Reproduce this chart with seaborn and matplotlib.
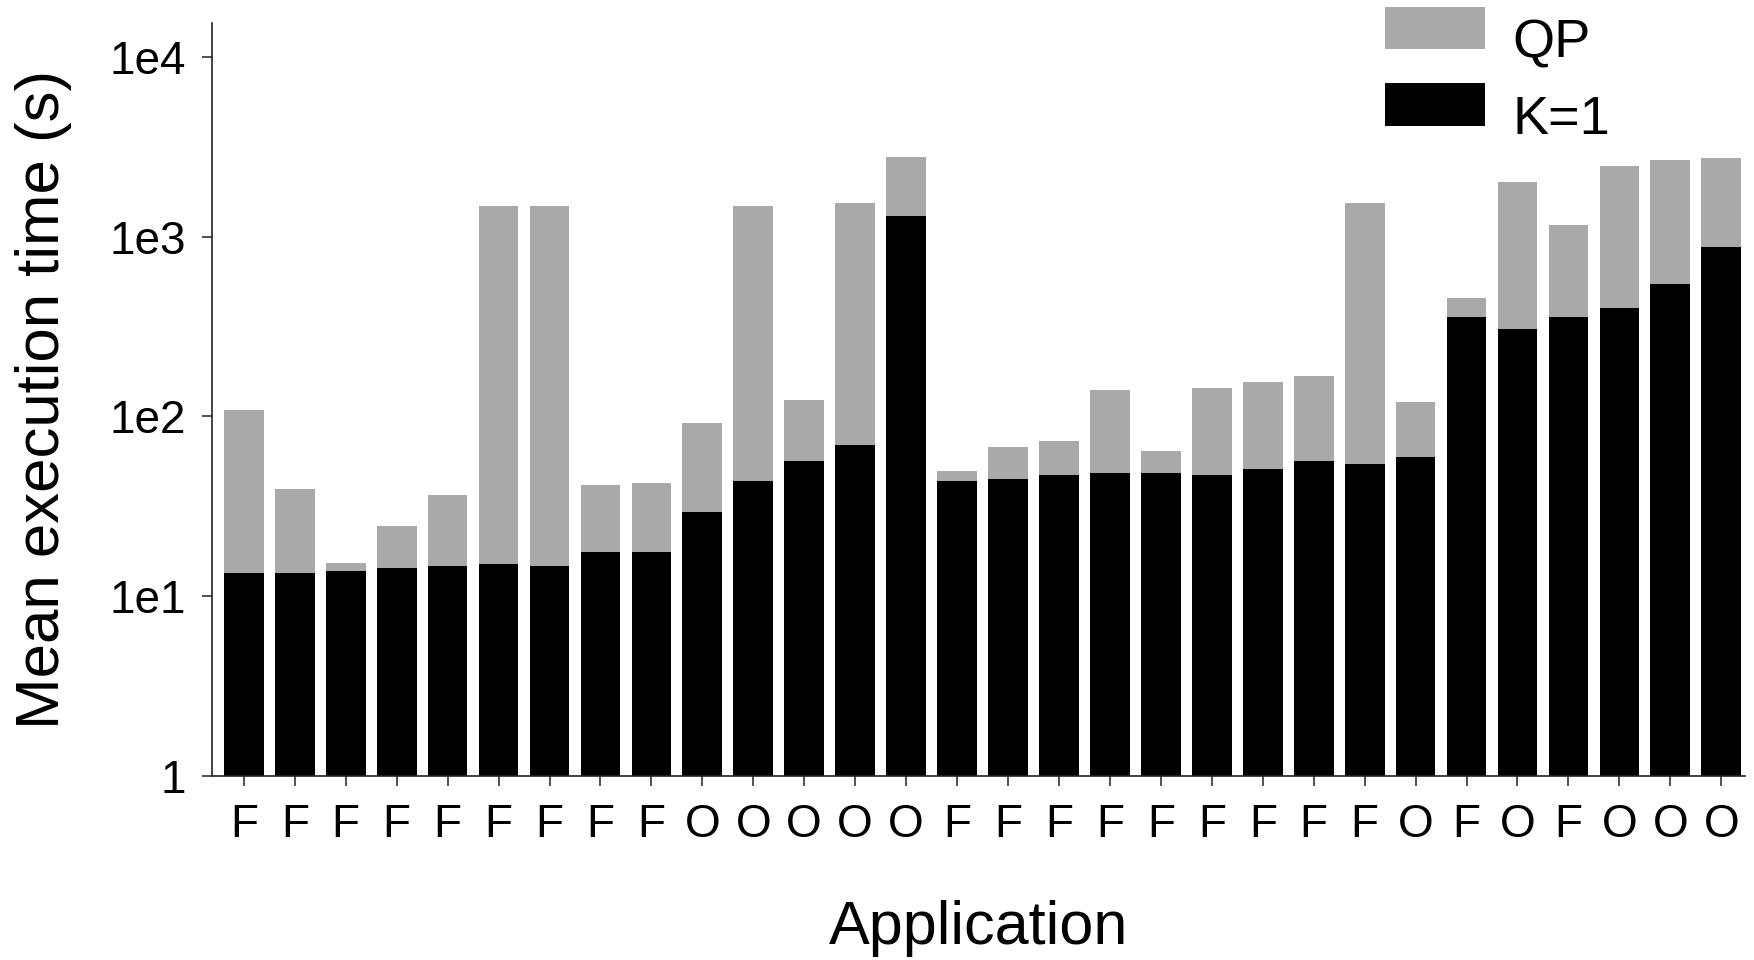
import matplotlib
matplotlib.use("Agg")
import matplotlib.pyplot as plt
import seaborn as sns
import pandas as pd
from matplotlib.patches import Patch
from matplotlib.ticker import FixedLocator, NullLocator
from matplotlib.transforms import ScaledTranslation

# Application type of each benchmark (F / O)
app_types = ["F", "F", "F", "F", "F", "F", "F", "F", "F",
             "O", "O", "O", "O", "O",
             "F", "F", "F", "F", "F", "F", "F", "F", "F",
             "O", "F", "O", "F", "O", "O", "O"]

# Mean execution time (s) with the QP solver
qp_time = [109, 39.5, 15.3, 24.6, 36.3, 1480, 1480, 41.4, 42.7,
           92, 1480, 123, 1530, 2780,
           49.6, 67.5, 73, 141, 64.2, 144, 155, 168, 1530,
           119.5, 453, 2004, 1154, 2472, 2668, 2736]

# Mean execution time (s) with K=1
k1_time = [13.5, 13.5, 13.8, 14.3, 14.6, 15.0, 14.6, 17.5, 17.5,
           29.5, 43.6, 56.7, 69.5, 1310,
           43.6, 44.8, 47.1, 48.4, 48.4, 47.1, 51, 56.7, 54,
           59.6, 358, 307, 358, 400, 545, 871]

y_ticks = [1, 10, 100, 1000, 10000]
y_tick_labels = ["1", "1e1", "1e2", "1e3", "1e4"]

df = pd.DataFrame({
    "app": list(range(len(app_types))),
    "qp": qp_time,
    "k1": k1_time,
})

sns.set_style("ticks")
plt.rcParams["font.family"] = ["Liberation Sans", "DejaVu Sans"]
plt.rcParams["text.color"] = "black"
plt.rcParams["axes.labelcolor"] = "black"
plt.rcParams["xtick.color"] = "black"
plt.rcParams["ytick.color"] = "black"

fig = plt.figure(figsize=(17.54, 9.60), dpi=100)
ax = fig.add_axes([0.121, 0.192, 0.874, 0.784])

qp_color = "#a9a9a9"
k1_color = "#000000"

sns.barplot(data=df, x="app", y="qp", color=qp_color, width=0.78,
            saturation=1, linewidth=0, ax=ax)
sns.barplot(data=df, x="app", y="k1", color=k1_color, width=0.78,
            saturation=1, linewidth=0, ax=ax)

ax.set_yscale("log")
ax.set_ylim(1, 15450)
ax.set_xlim(-0.62, len(app_types) - 1 + 0.47)
ax.yaxis.set_major_locator(FixedLocator(y_ticks))
ax.yaxis.set_minor_locator(NullLocator())
ax.set_yticklabels(y_tick_labels)
ax.set_xticks(range(len(app_types)))
ax.set_xticklabels(app_types)

sns.despine(ax=ax)
for side in ("left", "bottom"):
    ax.spines[side].set_linewidth(1.2)
    ax.spines[side].set_color("#222222")

ax.tick_params(axis="y", direction="out", length=7, width=1.1,
               labelsize=33, pad=12, color="#222222")
ax.tick_params(axis="x", direction="out", length=7.5, width=1.1,
               labelsize=33, pad=12, color="#222222")

ax.set_xlabel("Application", fontsize=44, labelpad=38)
ax.set_ylabel("Mean execution time (s)", fontsize=44.5, labelpad=27)

handles = [Patch(facecolor=qp_color, edgecolor="none", label="QP"),
           Patch(facecolor=k1_color, edgecolor="none", label="K=1")]
leg = fig.legend(handles=handles, loc="upper left",
                 bbox_to_anchor=(0.7895, 0.993),
                 frameon=False, fontsize=39, handlelength=1.85,
                 handleheight=0.83, handletextpad=0.5, labelspacing=0.47,
                 borderpad=0.0, borderaxespad=0.0)
# labels sit slightly below their swatches
shift = ScaledTranslation(0, -8 / 72, fig.dpi_scale_trans)
for t in leg.get_texts():
    t.set_transform(t.get_transform() + shift)

fig.savefig("out.png", dpi=100, facecolor="white")
